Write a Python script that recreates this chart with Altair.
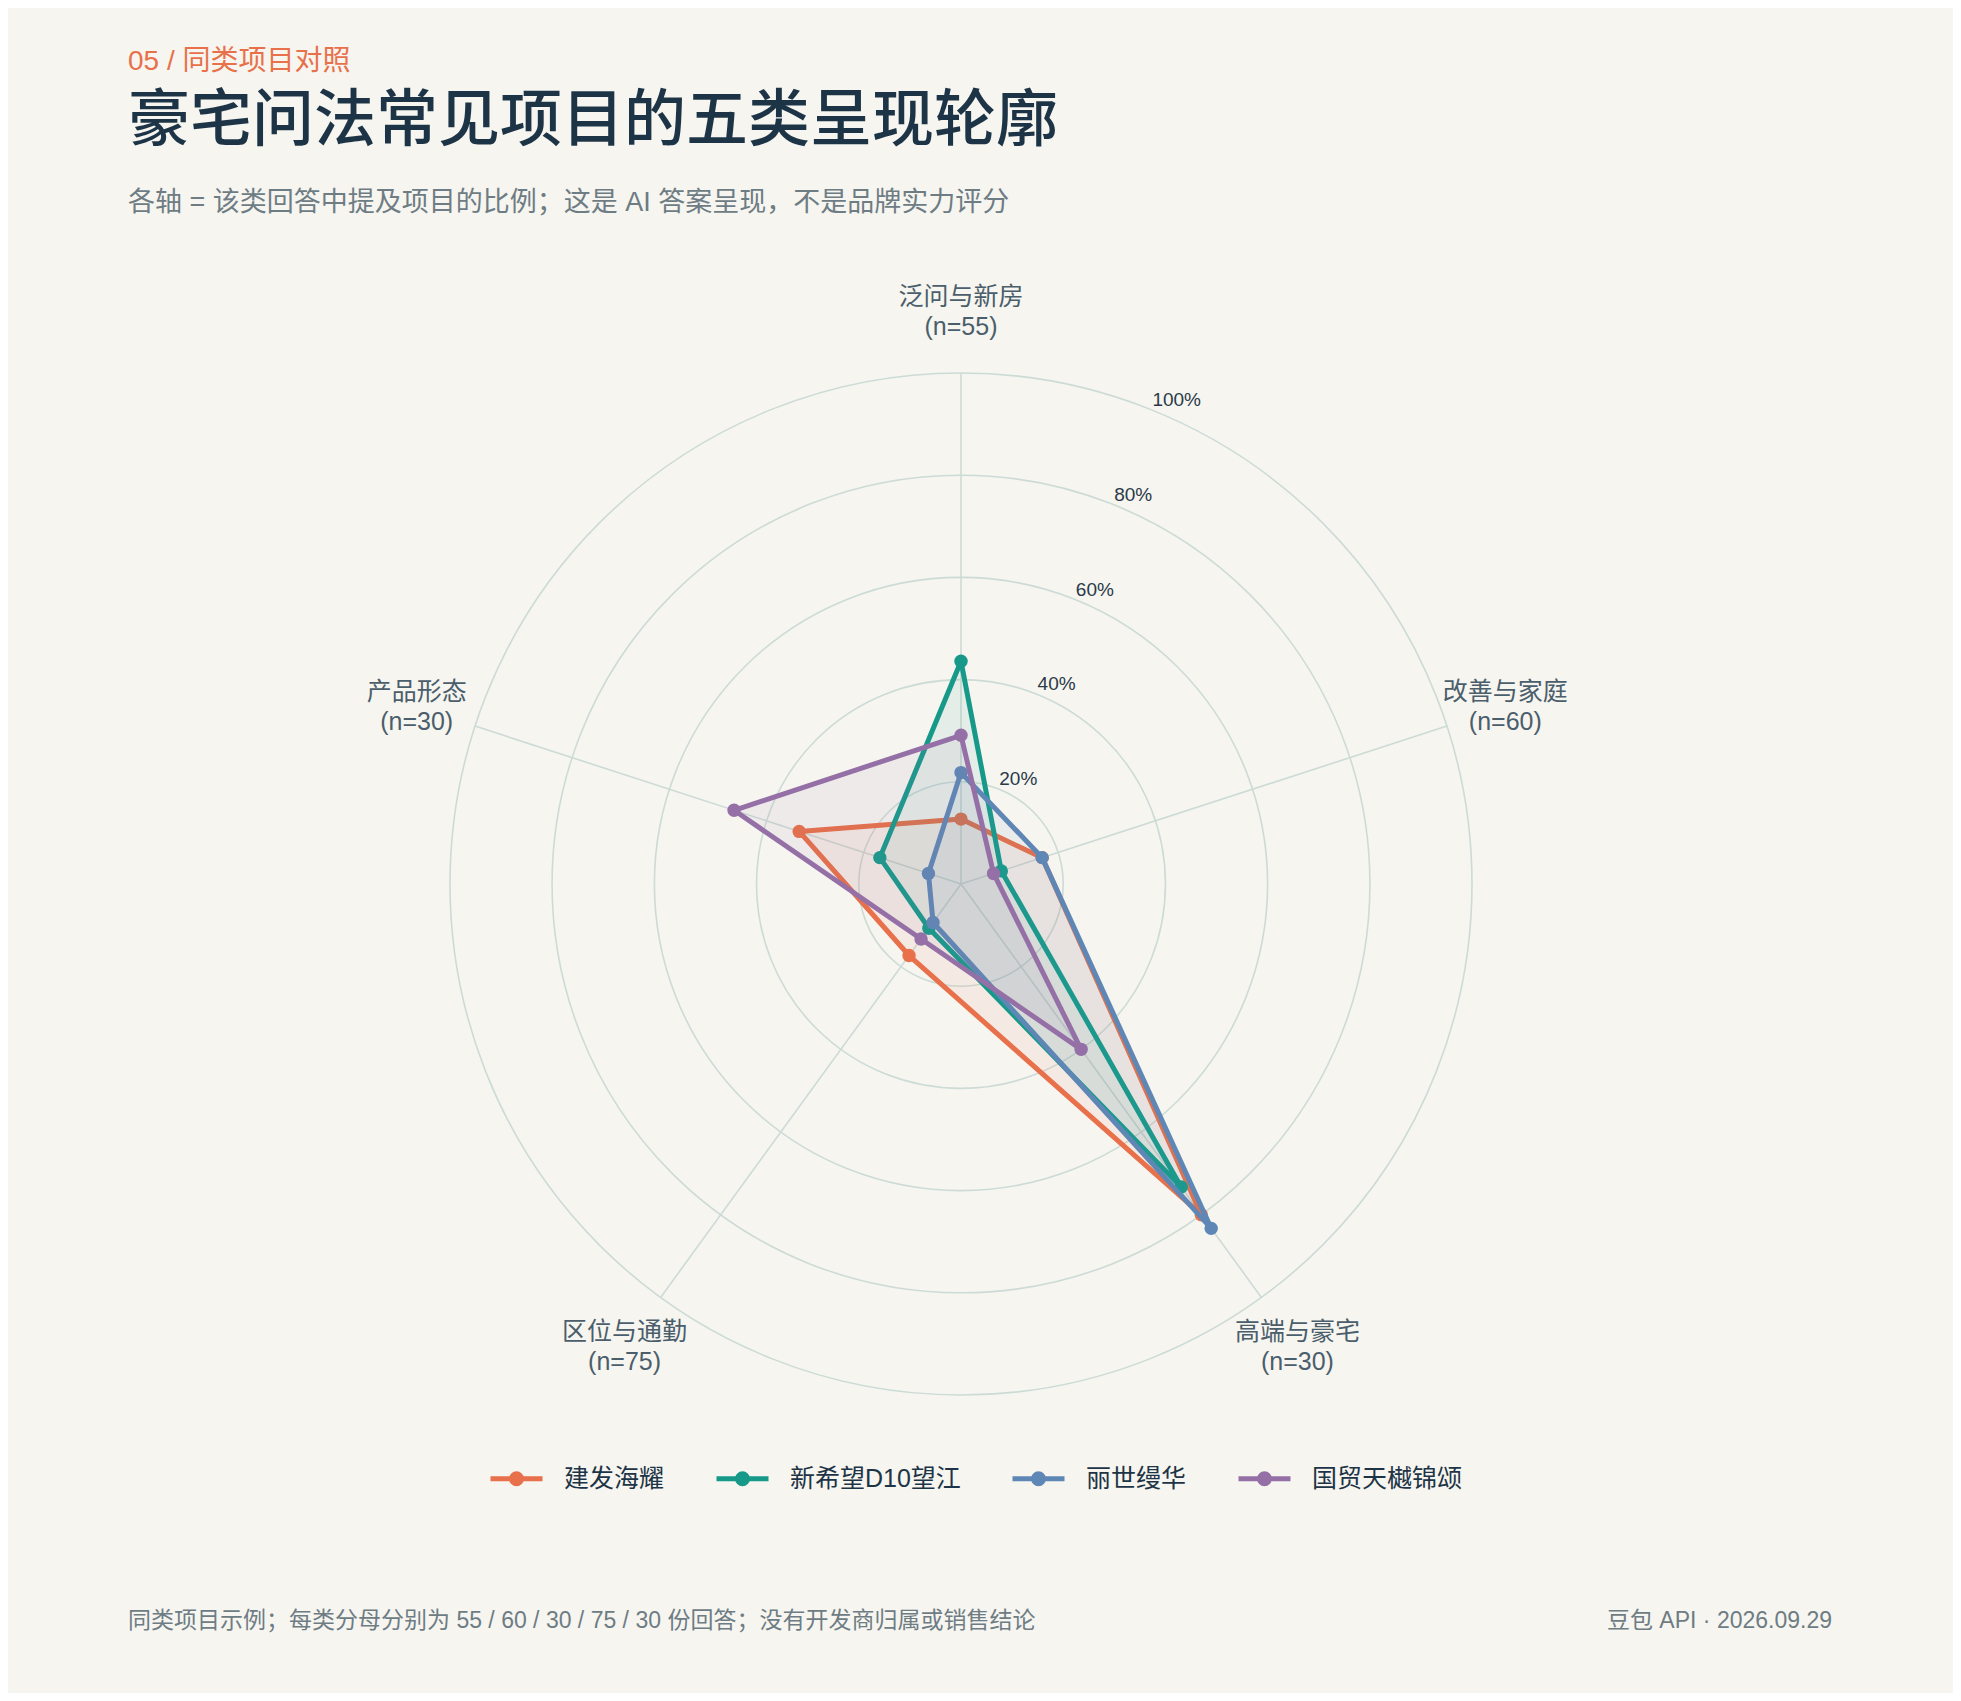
import altair as alt
import pandas as pd

# ---------------- data ----------------
categories = ["泛问与新房", "改善与家庭", "高端与豪宅", "区位与通勤", "产品形态"]
sample_n = [55, 60, 30, 75, 30]
series = ["建发海耀", "新希望D10望江", "丽世缦华", "国贸天樾锦颂"]
colors = ["#E8704A", "#17998A", "#5E87B6", "#9470A6"]
v_jianfa = [12.7, 16.7, 80.0, 17.3, 33.3]
v_xinxiwang = [43.6, 8.3, 73.3, 10.7, 16.7]
v_lishi = [21.8, 16.7, 83.3, 9.3, 6.7]
v_guomao = [29.1, 6.7, 40.0, 13.3, 46.7]
ring_ticks = [20, 40, 60, 80, 100]

kicker = "05 / 同类项目对照"
title = "豪宅问法常见项目的五类呈现轮廓"
subtitle = "各轴 = 该类回答中提及项目的比例；这是 AI 答案呈现，不是品牌实力评分"
footer_left = "同类项目示例；每类分母分别为 55 / 60 / 30 / 75 / 30 份回答；没有开发商归属或销售结论"
footer_right = "豆包 API · 2026.09.29"

# ---------------- layout ----------------
W, H = 1945, 1685
CX, CY = 953, 876
R = 511
K = R / 100.0
FONT = "Liberation Sans, Noto Sans CJK SC, sans-serif"
BG = "#F6F5F0"
GRID = "#CDDBD6"

xs = alt.Scale(domain=[-CX / K, (W - CX) / K], nice=False, zero=False)
ys = alt.Scale(domain=[-(H - CY) / K, CY / K], nice=False, zero=False)

values_by_series = [v_jianfa, v_xinxiwang, v_lishi, v_guomao]
rows = []
for s, vals in zip(series, values_by_series):
    for k in range(6):
        idx = k % 5
        rows.append({"series": s, "k": k, "idx": idx, "value": vals[idx]})
df = pd.DataFrame(rows)

spokes = pd.DataFrame({"idx": list(range(5))})
labels = pd.DataFrame({
    "idx": list(range(5)),
    "label": [f"{c}\n(n={n})" for c, n in zip(categories, sample_n)],
})
rings = pd.DataFrame({"v": ring_ticks, "t": [f"{v}%" for v in ring_ticks]})

ANG = "2*PI*datum.idx/5"

color_scale = alt.Scale(domain=series, range=colors)
LEG_PATH = ("M-1,0L1,0"
            "M-0.19,0a0.19,0.19 0 1,0 0.38,0a0.19,0.19 0 1,0 -0.38,0"
            "M-0.08,0a0.08,0.08 0 1,0 0.16,0a0.08,0.08 0 1,0 -0.16,0")
leg = alt.Legend(
    title=None, orient="none", legendX=480, legendY=1442, direction="horizontal",
    symbolType=LEG_PATH, symbolSize=2704, symbolStrokeWidth=5,
    labelFont=FONT, labelFontSize=25, labelColor="#1D3446", labelOffset=19,
    columnPadding=41, padding=0, labelLimit=500,
)

# rings
ring_layer = alt.Chart(rings).mark_arc(
    theta=0, theta2=6.2832, fillOpacity=0, stroke=GRID, strokeWidth=1.6
).transform_calculate(cx="0", cy="0").encode(
    x=alt.X("cx:Q", scale=xs, axis=None),
    y=alt.Y("cy:Q", scale=ys, axis=None),
    radius=alt.Radius("v:Q", stack=False,
                      scale=alt.Scale(type="linear", domain=[0, 100], range=[0, R], zero=True)),
)

spoke_layer = alt.Chart(spokes).mark_rule(color=GRID, strokeWidth=1.6).transform_calculate(
    x0="0", y0="0", x1=f"100*sin({ANG})", y1=f"100*cos({ANG})"
).encode(
    x=alt.X("x0:Q", scale=xs, axis=None), y=alt.Y("y0:Q", scale=ys, axis=None),
    x2="x1:Q", y2="y1:Q",
)

tick_layer = alt.Chart(rings).mark_text(
    align="left", baseline="bottom", font=FONT, fontSize=19, color="#2A3A48"
).transform_calculate(
    tx="datum.v*sin(22*PI/180)", ty="datum.v*cos(22*PI/180)"
).encode(
    x=alt.X("tx:Q", scale=xs, axis=None), y=alt.Y("ty:Q", scale=ys, axis=None), text="t:N"
)

label_layer = alt.Chart(labels).mark_text(
    align="center", baseline="middle", font=FONT, fontSize=25, color="#4B5E6B",
    lineBreak="\n", lineHeight=30, dy=-15,
).transform_calculate(
    lx=f"112*sin({ANG})", ly=f"112*cos({ANG})"
).encode(
    x=alt.X("lx:Q", scale=xs, axis=None), y=alt.Y("ly:Q", scale=ys, axis=None), text="label:N"
)

series_layers = []
for s, c in zip(series, colors):
    base = alt.Chart(df).transform_filter(alt.datum.series == s).transform_calculate(
        px=f"datum.value*sin({ANG})", py=f"datum.value*cos({ANG})"
    )
    line = base.mark_line(strokeWidth=5, fill=c, fillOpacity=0.08, strokeJoin="round").encode(
        x=alt.X("px:Q", scale=xs, axis=None),
        y=alt.Y("py:Q", scale=ys, axis=None),
        order=alt.Order("k:Q"),
        color=alt.Color("series:N", scale=color_scale, legend=leg),
    )
    pts = base.transform_filter(alt.datum.k < 5).mark_point(filled=True, size=180, opacity=1).encode(
        x=alt.X("px:Q", scale=xs, axis=None),
        y=alt.Y("py:Q", scale=ys, axis=None),
        color=alt.Color("series:N", scale=color_scale, legend=leg),
    )
    series_layers += [line, pts]


def header(text, x, y, size, color, align="left", weight="normal"):
    return alt.Chart(pd.DataFrame({"t": [text]})).mark_text(
        align=align, baseline="middle", font=FONT, fontSize=size, color=color, fontWeight=weight
    ).encode(x=alt.value(x), y=alt.value(y), text="t:N")


texts = [
    header(kicker, 120, 53.5, 28, "#E8704A"),
    header(title, 120, 113.5, 62, "#1D3446", weight=500),
    header(subtitle, 120, 195, 27, "#6E7C84"),
    header(footer_left, 120, 1613, 23, "#6E7C84"),
    header(footer_right, 1824, 1613, 23, "#6E7C84", align="right"),
]

chart = alt.layer(
    ring_layer, spoke_layer, *series_layers, tick_layer, label_layer, *texts
).properties(
    width=W, height=H, padding=0, autosize=alt.AutoSizeParams(type="none"), background=BG
).configure_view(stroke=None)

chart.save("out.html", embed_options={"renderer": "svg", "actions": False})
